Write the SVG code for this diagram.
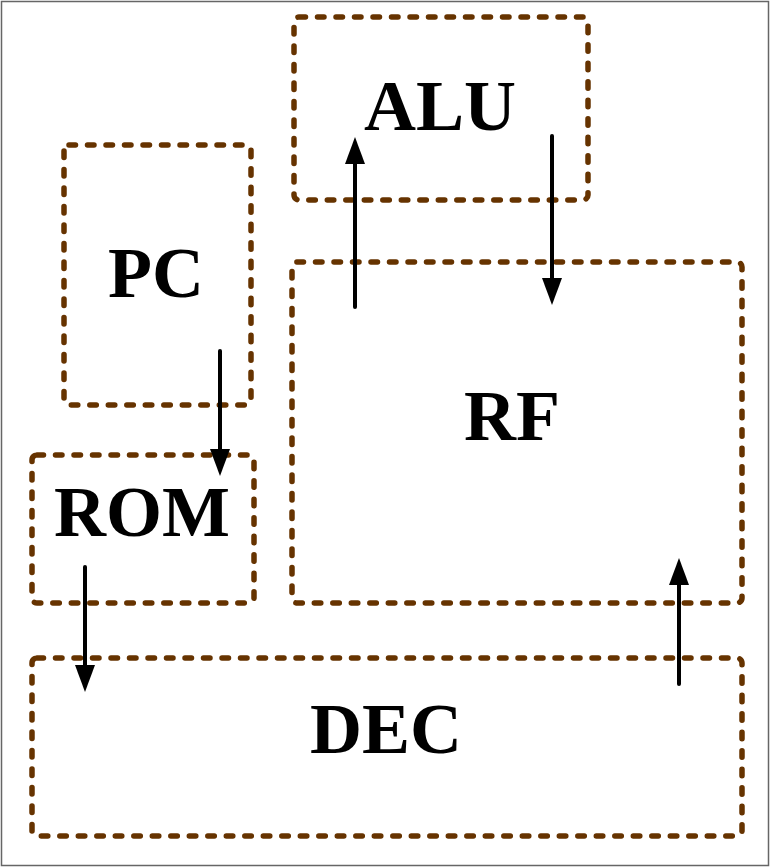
<svg xmlns="http://www.w3.org/2000/svg" width="770" height="867" viewBox="0 0 770 867">
<style>
.box{fill:none;stroke:#663300;stroke-width:5.5;stroke-dasharray:6.5 12;stroke-linecap:round}
.lbl{font-family:"Liberation Serif","Times New Roman",serif;font-weight:bold;font-size:72px;fill:#000;text-anchor:middle}
.conn{stroke:#000;stroke-width:4;stroke-linecap:round;fill:none;marker-end:url(#ah)}
</style>
<defs>
<marker id="ah" markerWidth="27" markerHeight="20" refX="17" refY="10" orient="auto" markerUnits="userSpaceOnUse" viewBox="0 0 27 20">
<path d="M0,0 L27,10 L0,20 Z" fill="#000"/>
</marker>
</defs>
<rect x="1.5" y="1.5" width="767" height="864" fill="#fff" stroke="#666" stroke-width="1.5"/>
<g id="ALU"><rect class="box" x="294" y="17" width="294" height="183" rx="5"/><text class="lbl" x="440" y="130">ALU</text></g>
<g id="PC"><rect class="box" x="64" y="145" width="187" height="260" rx="5"/><text class="lbl" x="156" y="297">PC</text></g>
<g id="ROM"><rect class="box" x="32" y="455" width="222" height="148" rx="5"/><text class="lbl" x="142" y="536">ROM</text></g>
<g id="RF"><rect class="box" x="292" y="262" width="450" height="341" rx="5"/><text class="lbl" x="512" y="440">RF</text></g>
<g id="DEC"><rect class="box" x="32" y="658" width="710" height="178" rx="5"/><text class="lbl" x="386" y="753">DEC</text></g>
<g id="connectors">
<line class="conn" x1="355" y1="307" x2="355" y2="147"/>
<line class="conn" x1="552" y1="136" x2="552" y2="295"/>
<line class="conn" x1="220" y1="351" x2="220" y2="466"/>
<line class="conn" x1="85" y1="567" x2="85" y2="682"/>
<line class="conn" x1="679" y1="684" x2="679" y2="568"/>
</g>
</svg>
